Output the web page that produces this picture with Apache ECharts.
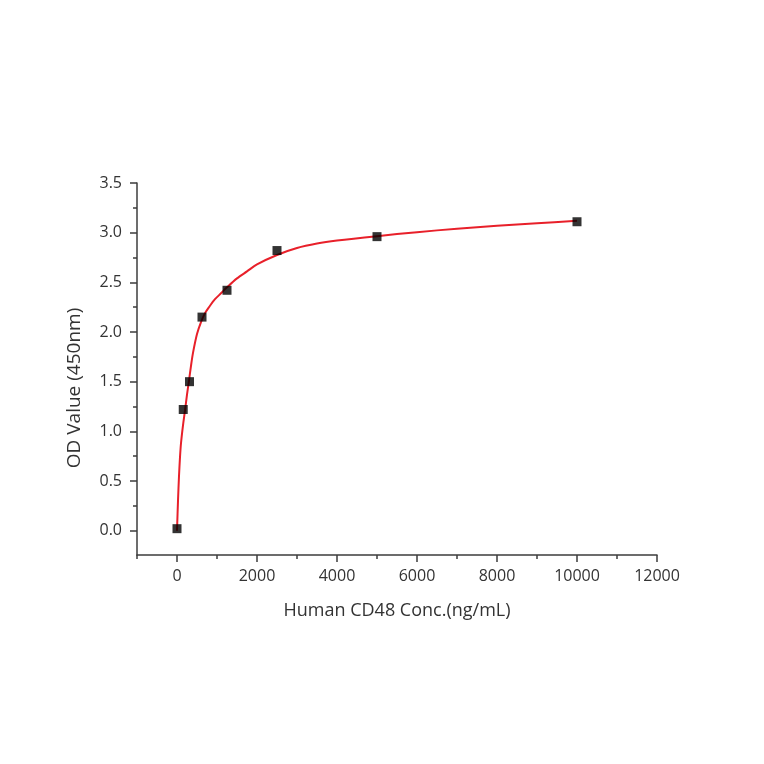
<!DOCTYPE html>
<html>
<head>
<meta charset="utf-8">
<script src="https://cdn.jsdelivr.net/npm/echarts@6/dist/echarts.min.js"></script>
<style>html,body{margin:0;padding:0;background:#fff;}#c{width:764px;height:764px;}</style>
</head>
<body>
<div id="c"></div>
<script>
// Measured points
const concX = [0, 156, 312, 625, 1250, 2500, 5000, 10000];
const odY = [0.02, 1.22, 1.50, 2.15, 2.42, 2.82, 2.96, 3.11];
// Fitted curve
const curveX = [0, 25, 50, 75, 100, 150, 200, 250, 300, 350, 400, 500, 600, 700, 800, 950, 1100, 1250, 1500, 1750, 2000, 2500, 3000, 3500, 4000, 5000, 6000, 7000, 8000, 9000, 10000];
const curveY = [0.00, 0.30, 0.55, 0.74, 0.88, 1.06, 1.21, 1.37, 1.51, 1.66, 1.79, 1.98, 2.10, 2.19, 2.25, 2.33, 2.39, 2.45, 2.54, 2.61, 2.68, 2.775, 2.845, 2.89, 2.92, 2.965, 3.005, 3.04, 3.07, 3.095, 3.12];
// Ticks
const xLabels = [0, 2000, 4000, 6000, 8000, 10000, 12000];
const xMinor = [-1000, 1000, 3000, 5000, 7000, 9000, 11000];
const yLabels = [0, 0.5, 1.0, 1.5, 2.0, 2.5, 3.0, 3.5];
const yMinor = [0.25, 0.75, 1.25, 1.75, 2.25, 2.75, 3.25];

const axisColor = '#3c3c3c';
const textColor = '#333333';
const font = 'Open Sans';
const X_MIN = -1000, X_MAX = 12000, Y_MIN = -0.245, Y_MAX = 3.5;

const chart = echarts.init(document.getElementById('c'), null, {renderer: 'canvas'});
chart.setOption({
  animation: false,
  backgroundColor: '#fff',
  grid: {left: 137, right: 107, top: 183, bottom: 209, containLabel: false},
  xAxis: [{
    type: 'value', min: X_MIN, max: X_MAX, position: 'bottom',
    axisLine: {show: true, onZero: false, lineStyle: {color: axisColor, width: 1.5}},
    axisTick: {show: true, inside: false, length: 7, customValues: xLabels, lineStyle: {color: axisColor, width: 1.5}},
    axisLabel: {show: true, customValues: xLabels, margin: 13, color: textColor, fontFamily: font, fontSize: 16,
      formatter: v => String(v)},
    splitLine: {show: false},
    name: 'Human CD48 Conc.(ng/mL)', nameLocation: 'middle', nameGap: 47,
    nameTextStyle: {color: textColor, fontFamily: font, fontSize: 18}
  }, {
    type: 'value', min: X_MIN, max: X_MAX, position: 'bottom',
    axisLine: {show: false, onZero: false},
    axisTick: {show: true, length: 4, customValues: xMinor, lineStyle: {color: axisColor, width: 1.5}},
    axisLabel: {show: false},
    splitLine: {show: false}
  }],
  yAxis: [{
    type: 'value', min: Y_MIN, max: Y_MAX, position: 'left',
    axisLine: {show: true, onZero: false, lineStyle: {color: axisColor, width: 1.5}},
    axisTick: {show: true, length: 7, customValues: yLabels, lineStyle: {color: axisColor, width: 1.5}},
    axisLabel: {show: true, customValues: yLabels, margin: 15, color: textColor, fontFamily: font, fontSize: 16,
      formatter: v => v.toFixed(1)},
    splitLine: {show: false}
  }, {
    type: 'value', min: Y_MIN, max: Y_MAX, position: 'left',
    axisLine: {show: false, onZero: false},
    axisTick: {show: true, length: 4, customValues: yMinor, lineStyle: {color: axisColor, width: 1.5}},
    axisLabel: {show: false},
    splitLine: {show: false}
  }],
  graphic: [{
    type: 'text', rotation: Math.PI / 2,
    x: 75, y: 388, originX: 0, originY: 0,
    style: {text: 'OD Value (450nm)', fill: textColor, font: '19px "Open Sans"', align: 'center', verticalAlign: 'middle'}
  }],
  series: [{
    type: 'line', xAxisIndex: 0, yAxisIndex: 0,
    data: curveX.map((x, i) => [x, curveY[i]]),
    smooth: 0.3, showSymbol: false, symbol: 'none',
    lineStyle: {color: '#e8202a', width: 2}, z: 2
  }, {
    type: 'scatter', xAxisIndex: 0, yAxisIndex: 0,
    data: concX.map((x, i) => [x, odY[i]]),
    symbol: 'rect', symbolSize: 9,
    itemStyle: {color: '#000'}, z: 3
  }]
});
</script>
</body>
</html>
